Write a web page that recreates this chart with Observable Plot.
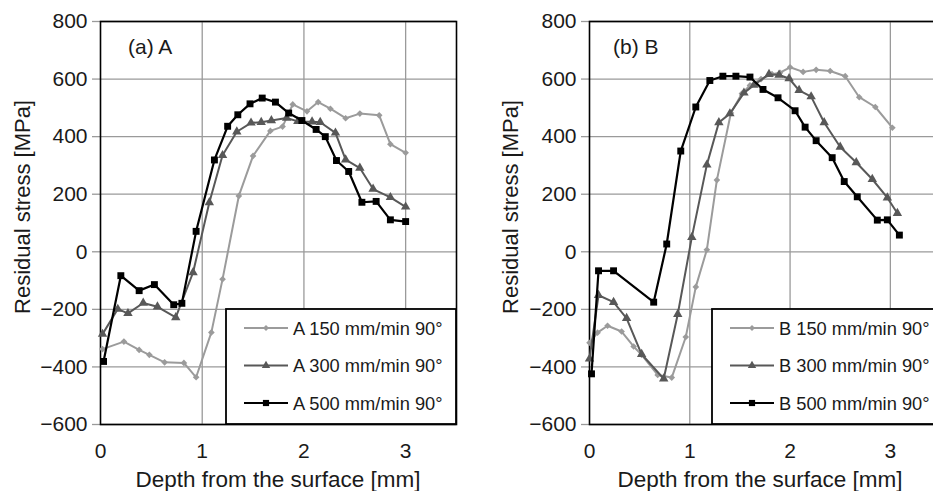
<!DOCTYPE html>
<html>
<head>
<meta charset="utf-8">
<script src="https://cdn.jsdelivr.net/npm/d3@7"></script>
<script src="https://cdn.jsdelivr.net/npm/@observablehq/plot@0.6"></script>
<style>
  body { margin: 0; background: #fff; }
  #wrap { position: relative; width: 933px; height: 491px; overflow: hidden; background: #fff; }
  .panel { position: absolute; top: 0; }
  .panel svg { max-width: none !important; display: block; }
</style>
</head>
<body>
<div id="wrap">
  <div class="panel" id="pa" style="left:0;width:470px"></div>
  <div class="panel" id="pb" style="left:470px;width:472px"></div>
</div>
<script>
// ---------- data ----------
const xTicks = [0, 1, 2, 3];
const yTicks = [-600, -400, -200, 0, 200, 400, 600, 800];
const seriesLabels = ["150 mm/min 90°", "300 mm/min 90°", "500 mm/min 90°"];

// Panel (a) A
const depthA150 = [0.02, 0.23, 0.38, 0.48, 0.63, 0.82, 0.94, 1.09, 1.20, 1.36, 1.50, 1.67, 1.79, 1.89, 2.03, 2.14, 2.26, 2.41, 2.55, 2.74, 2.85, 3.0];
const stressA150 = [-338, -312, -341, -358, -384, -386, -436, -280, -95, 194, 333, 420, 435, 512, 488, 520, 497, 464, 480, 474, 374, 344];
const depthA300 = [0.02, 0.17, 0.27, 0.42, 0.56, 0.74, 0.91, 1.07, 1.20, 1.34, 1.48, 1.58, 1.68, 1.83, 1.94, 2.08, 2.16, 2.31, 2.41, 2.55, 2.68, 2.85, 3.0];
const stressA300 = [-286, -199, -214, -178, -191, -228, -72, 171, 335, 417, 448, 450, 456, 465, 453, 452, 450, 413, 320, 291, 218, 189, 156];
const depthA500 = [0.03, 0.20, 0.38, 0.53, 0.72, 0.80, 0.94, 1.12, 1.25, 1.35, 1.47, 1.59, 1.72, 1.85, 1.98, 2.12, 2.21, 2.32, 2.44, 2.57, 2.71, 2.85, 3.0];
const stressA500 = [-381, -83, -135, -114, -184, -179, 71, 319, 436, 476, 514, 534, 520, 482, 456, 425, 400, 317, 279, 172, 175, 111, 105];

// Panel (b) B
const depthB150 = [0.0, 0.08, 0.18, 0.32, 0.44, 0.52, 0.68, 0.82, 0.96, 1.06, 1.17, 1.27, 1.41, 1.52, 1.60, 1.71, 1.82, 1.90, 2.0, 2.13, 2.26, 2.40, 2.55, 2.69, 2.85, 3.02];
const stressB150 = [-316, -281, -257, -277, -329, -358, -428, -437, -296, -122, 7, 249, 482, 550, 578, 600, 617, 622, 641, 625, 632, 628, 610, 537, 503, 431];
const depthB300 = [0.0, 0.09, 0.24, 0.37, 0.52, 0.74, 0.88, 1.02, 1.17, 1.29, 1.40, 1.54, 1.64, 1.79, 1.89, 1.99, 2.09, 2.21, 2.34, 2.50, 2.66, 2.82, 2.97, 3.07];
const stressB300 = [-372, -151, -175, -231, -356, -441, -217, 50, 302, 449, 480, 552, 579, 617, 614, 602, 561, 539, 449, 364, 310, 252, 188, 134];
const depthB500 = [0.02, 0.09, 0.24, 0.64, 0.77, 0.91, 1.06, 1.20, 1.33, 1.46, 1.60, 1.73, 1.88, 2.05, 2.15, 2.26, 2.42, 2.54, 2.67, 2.87, 2.97, 3.09];
const stressB500 = [-424, -66, -66, -175, 27, 350, 503, 595, 610, 610, 607, 564, 535, 490, 433, 386, 327, 244, 191, 110, 111, 58];

// ---------- styling ----------
const styles = [
  {color: "#9b9b9b", symbol: "diamond2", r: 3.0, sw: 2},
  {color: "#585858", symbol: "triangle", r: 3.5, sw: 2},
  {color: "#000000", symbol: "square", r: 3.9, sw: 2.2}
];
const FONT = "'Liberation Sans', Arial, sans-serif";
const INK = "#1a1a1a";

function rows(d, s) { return d.map((x, i) => ({x, y: s[i]})); }

function panel(el, cfg) {
  const marks = [
    Plot.gridX(xTicks.slice(1), {stroke: "#9a9a9a", strokeOpacity: 1, strokeWidth: 1.3}),
    Plot.gridY(yTicks, {stroke: "#9a9a9a", strokeOpacity: 1, strokeWidth: 1.3}),
    Plot.axisY(yTicks, {tickSize: 8, tickPadding: 5, stroke: "#9a9a9a", strokeWidth: 1.3, fill: INK, fontSize: 21, label: null}),
    Plot.axisX(xTicks, {tickSize: 0, tickPadding: 19, fill: INK, fontSize: 21, label: null, tickFormat: d3.format("d")}),
    Plot.frame({stroke: "#000", strokeWidth: 1.6})
  ];
  cfg.series.forEach((s, i) => {
    const st = styles[i];
    const data = rows(s[0], s[1]);
    marks.push(Plot.line(data, {x: "x", y: "y", stroke: st.color, strokeWidth: st.sw}));
    marks.push(Plot.dot(data, {x: "x", y: "y", symbol: st.symbol, r: st.r, fill: st.color, stroke: "none"}));
  });
  const svg = Plot.plot({
    width: cfg.width, height: 491,
    marginLeft: cfg.marginLeft, marginRight: cfg.marginRight, marginTop: 21, marginBottom: 67,
    style: {fontFamily: FONT, fontSize: "21px", color: INK, background: "transparent"},
    x: {domain: [0, 3.5]},
    y: {domain: [-600, 800]},
    marks
  });
  const g = d3.select(svg).append("g").attr("font-family", FONT).attr("fill", INK).attr("text-anchor", "start");
  // axis titles
  g.append("text").attr("transform", `translate(${cfg.yLabelX},207) rotate(-90)`)
    .attr("text-anchor", "middle").attr("dy", "0.35em").attr("font-size", 22)
    .text("Residual stress [MPa]");
  g.append("text").attr("x", cfg.xLabelX).attr("y", 487).attr("text-anchor", "middle")
    .attr("font-size", 22.5).text("Depth from the surface [mm]");
  // panel tag
  g.append("text").attr("x", cfg.tagX).attr("y", 47).attr("dy", "0.35em")
    .attr("font-size", 21).text(cfg.tag);
  // legend
  const lg = g.append("g");
  lg.append("rect").attr("x", cfg.legX).attr("y", 309).attr("width", cfg.legW).attr("height", 115)
    .attr("fill", "#fff").attr("stroke", "#000").attr("stroke-width", 1.8);
  styles.forEach((st, i) => {
    const yy = 328 + i * 37.5;
    const x1 = cfg.legX + 18, x2 = cfg.legX + 62;
    lg.append("line").attr("x1", x1).attr("x2", x2).attr("y1", yy).attr("y2", yy)
      .attr("stroke", st.color).attr("stroke-width", st.sw);
    const sym = {diamond2: d3.symbolDiamond2, triangle: d3.symbolTriangle, square: d3.symbolSquare}[st.symbol];
    lg.append("path").attr("transform", `translate(${(x1 + x2) / 2},${yy})`)
      .attr("d", d3.symbol(sym, Math.PI * st.r * st.r * 0.8)()).attr("fill", st.color);
    lg.append("text").attr("x", x2 + 5).attr("y", yy).attr("dy", "0.36em").attr("font-size", 18.3)
      .attr("text-anchor", "start").text(cfg.prefix + " " + seriesLabels[i]);
  });
  document.getElementById(el).appendChild(svg);
}

panel("pa", {
  width: 470, marginLeft: 100, marginRight: 14,
  series: [[depthA150, stressA150], [depthA300, stressA300], [depthA500, stressA500]],
  tag: "(a) A", tagX: 128, yLabelX: 22, xLabelX: 278, legX: 226, legW: 230, prefix: "A"
});
panel("pb", {
  width: 472, marginLeft: 119, marginRight: 2,
  series: [[depthB150, stressB150], [depthB300, stressB300], [depthB500, stressB500]],
  tag: "(b) B", tagX: 143, yLabelX: 40, xLabelX: 290, legX: 242, legW: 240, prefix: "B"
});
</script>
</body>
</html>
